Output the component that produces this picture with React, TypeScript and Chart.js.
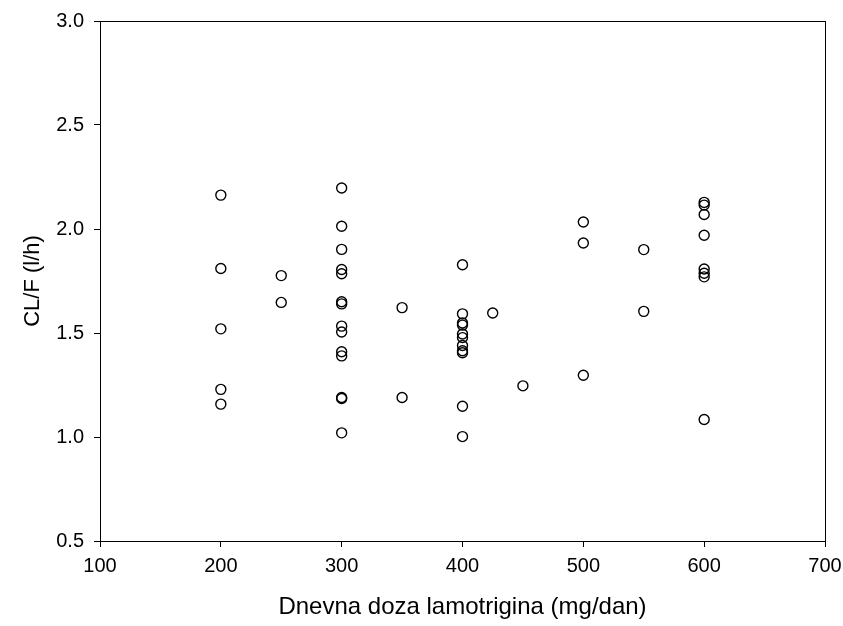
import React, { useEffect, useRef } from "react";
import { Chart, registerables } from "chart.js";

Chart.register(...registerables);

const doses: number[] = [
  200, 200, 200, 200, 200,
  250, 250,
  300, 300, 300, 300, 300, 300, 300, 300, 300, 300, 300, 300, 300, 300,
  350, 350,
  400, 400, 400, 400, 400, 400, 400, 400, 400, 400, 400,
  425,
  450,
  500, 500, 500,
  550, 550,
  600, 600, 600, 600, 600, 600, 600, 600,
];

const clearance: number[] = [
  2.163, 1.81, 1.52, 1.229, 1.158,
  1.776, 1.647,
  2.197, 2.013, 1.902, 1.805, 1.785, 1.65, 1.64, 1.533, 1.505, 1.41, 1.39, 1.19, 1.185, 1.02,
  1.622, 1.19,
  1.828, 1.592, 1.548, 1.538, 1.495, 1.478, 1.44, 1.415, 1.405, 1.148, 1.002,
  1.596,
  1.246,
  2.034, 1.933, 1.297,
  1.901, 1.604,
  2.128, 2.115, 2.07, 1.97, 1.808, 1.787, 1.77, 1.084,
];

const xTitle = "Dnevna doza lamotrigina (mg/dan)";
const yTitle = "CL/F (l/h)";
const xMin = 100, xMax = 700, xStep = 100;
const yMin = 0.5, yMax = 3.0, yStep = 0.5;

const FONT = "'Liberation Sans', Arial, sans-serif";

const boxPlugin = {
  id: "boxFrame",
  afterDraw(chart: any) {
    const { ctx, chartArea } = chart;
    ctx.save();
    ctx.strokeStyle = "#000";
    ctx.lineWidth = 1;
    ctx.strokeRect(
      Math.round(chartArea.left) + 0.5,
      Math.round(chartArea.top) + 0.5,
      Math.round(chartArea.right - chartArea.left),
      Math.round(chartArea.bottom - chartArea.top)
    );
    ctx.restore();
  },
};

export default function App() {
  const ref = useRef<HTMLCanvasElement | null>(null);
  useEffect(() => {
    if (!ref.current) return;
    const pts = doses.map((d, i) => ({ x: d, y: clearance[i] }));
    const chart = new Chart(ref.current, {
      type: "scatter",
      data: {
        datasets: [
          {
            data: pts,
            pointStyle: "circle",
            pointRadius: 5,
            pointBorderWidth: 1.4,
            pointBorderColor: "#000",
            pointBackgroundColor: "rgba(0,0,0,0)",
          },
        ],
      },
      plugins: [boxPlugin],
      options: {
        responsive: false,
        animation: false,
        layout: { padding: { top: 21, right: 18, left: 0, bottom: 0 } },
        plugins: { legend: { display: false }, tooltip: { enabled: false } },
        scales: {
          x: {
            type: "linear",
            min: xMin,
            max: xMax,
            ticks: {
              stepSize: xStep,
              color: "#000",
              padding: 7,
              font: { family: FONT, size: 20 },
            },
            grid: { display: true, drawOnChartArea: false, drawTicks: true, tickLength: 6, color: "#000" },
            border: { display: true, color: "#000", width: 1 },
            title: {
              display: true,
              text: xTitle,
              color: "#000",
              font: { family: FONT, size: 24 },
              padding: { top: 0, bottom: 4 },
            },
            afterFit: (scale: any) => {
              scale.height = 85;
              scale.paddingLeft = 0;
              scale.paddingRight = 0;
            },
          },
          y: {
            type: "linear",
            min: yMin,
            max: yMax,
            ticks: {
              stepSize: yStep,
              color: "#000",
              padding: 10,
              callback: (v: any) => Number(v).toFixed(1),
              font: { family: FONT, size: 20 },
            },
            grid: { display: true, drawOnChartArea: false, drawTicks: true, tickLength: 6, color: "#000" },
            border: { display: true, color: "#000", width: 1 },
            title: {
              display: true,
              text: yTitle,
              color: "#000",
              font: { family: FONT, size: 22 },
              padding: { top: 20, bottom: 0 },
            },
            afterFit: (scale: any) => {
              scale.width = 100;
              scale.paddingTop = 0;
              scale.paddingBottom = 0;
            },
          },
        },
      },
    });
    return () => chart.destroy();
  }, []);
  return (
    <div style={{ position: "fixed", left: 0, top: 0, width: 843, height: 626, background: "#fff" }}>
      <canvas ref={ref} width={843} height={626} style={{ width: 843, height: 626 }} />
    </div>
  );
}
